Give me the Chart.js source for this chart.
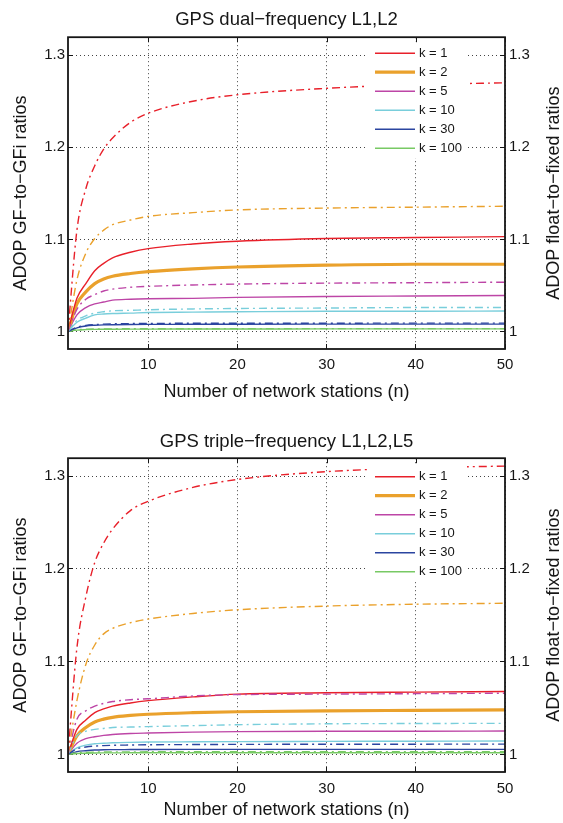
<!DOCTYPE html>
<html>
<head>
    <title>ADOP ratios</title>
    <style>
        body { margin: 0; background: #fff; }
        canvas { display: block; }
    </style>
</head>
<body>
    <canvas id="dualChart" width="563" height="411"></canvas>
    <canvas id="tripleChart" width="563" height="412"></canvas>

    <script src="https://cdn.jsdelivr.net/npm/chart.js"></script>

    <script>
        // number of network stations (x)
        const stations = [1, 2, 3, 4, 5, 6, 8, 10, 15, 20, 30, 40, 50];
        const kLabels = ['k = 1', 'k = 2', 'k = 5', 'k = 10', 'k = 30', 'k = 100'];
        const kColors = ['#e8202a', '#eaa12c', '#bd45a6', '#79cedb', '#2b45a0', '#78c964'];
        const xTickValues = [10, 20, 30, 40, 50];
        const yTickValues = [1, 1.1, 1.2, 1.3];

        // GPS dual-frequency L1,L2 : GF-to-GFi (solid)
        const dualGF_k1   = [1.000, 1.036, 1.052, 1.066, 1.074, 1.080, 1.086, 1.090, 1.095, 1.098, 1.101, 1.102, 1.103];
        const dualGF_k2   = [1.000, 1.030, 1.043, 1.052, 1.057, 1.060, 1.063, 1.065, 1.068, 1.070, 1.072, 1.073, 1.073];
        const dualGF_k5   = [1.000, 1.018, 1.026, 1.030, 1.032, 1.034, 1.035, 1.0355, 1.036, 1.037, 1.038, 1.0385, 1.039];
        const dualGF_k10  = [1.000, 1.010, 1.0145, 1.018, 1.019, 1.0195, 1.020, 1.0206, 1.021, 1.0214, 1.022, 1.022, 1.0222];
        const dualGF_k30  = [1.000, 1.004, 1.006, 1.0068, 1.0072, 1.0074, 1.0076, 1.0077, 1.0078, 1.0079, 1.008, 1.008, 1.008];
        const dualGF_k100 = [1.000, 1.0015, 1.002, 1.0023, 1.0024, 1.0025, 1.0026, 1.0026, 1.0027, 1.0027, 1.0028, 1.0028, 1.0028];
        // GPS dual-frequency L1,L2 : float-to-fixed (dash-dot)
        const dualFF_k1   = [1.000, 1.110, 1.155, 1.180, 1.198, 1.210, 1.227, 1.237, 1.250, 1.257, 1.264, 1.268, 1.270];
        const dualFF_k2   = [1.000, 1.056, 1.085, 1.101, 1.110, 1.116, 1.121, 1.125, 1.129, 1.132, 1.134, 1.135, 1.136];
        const dualFF_k5   = [1.000, 1.024, 1.035, 1.040, 1.044, 1.046, 1.048, 1.049, 1.0505, 1.0515, 1.0525, 1.053, 1.0535];
        const dualFF_k10  = [1.000, 1.012, 1.017, 1.020, 1.0215, 1.0225, 1.023, 1.0236, 1.0245, 1.025, 1.0255, 1.026, 1.026];
        const dualFF_k30  = [1.000, 1.0045, 1.0065, 1.0075, 1.008, 1.0083, 1.0086, 1.0088, 1.0089, 1.009, 1.009, 1.0091, 1.0091];
        const dualFF_k100 = [1.000, 1.0018, 1.0024, 1.0027, 1.0028, 1.0029, 1.003, 1.003, 1.003, 1.0031, 1.0031, 1.0031, 1.0031];

        // GPS triple-frequency L1,L2,L5 : GF-to-GFi (solid)
        const tripleGF_k1   = [1.000, 1.027, 1.037, 1.045, 1.049, 1.052, 1.0555, 1.058, 1.062, 1.065, 1.0665, 1.0672, 1.0678];
        const tripleGF_k2   = [1.000, 1.020, 1.029, 1.035, 1.038, 1.040, 1.042, 1.0433, 1.045, 1.046, 1.047, 1.0475, 1.048];
        const tripleGF_k5   = [1.000, 1.012, 1.017, 1.019, 1.0205, 1.0215, 1.0225, 1.023, 1.024, 1.0245, 1.025, 1.025, 1.0252];
        const tripleGF_k10  = [1.000, 1.007, 1.010, 1.0115, 1.012, 1.0125, 1.013, 1.0133, 1.0136, 1.0138, 1.014, 1.0142, 1.0144];
        const tripleGF_k30  = [1.000, 1.003, 1.004, 1.0047, 1.005, 1.0051, 1.0052, 1.0053, 1.0054, 1.0054, 1.0054, 1.0054, 1.0054];
        const tripleGF_k100 = [1.000, 1.001, 1.0013, 1.0015, 1.0016, 1.0016, 1.0017, 1.0017, 1.0017, 1.0017, 1.0017, 1.0017, 1.0017];
        // GPS triple-frequency L1,L2,L5 : float-to-fixed (dash-dot)
        const tripleFF_k1   = [1.000, 1.115, 1.170, 1.207, 1.228, 1.243, 1.263, 1.273, 1.288, 1.2965, 1.305, 1.309, 1.311];
        const tripleFF_k2   = [1.000, 1.058, 1.097, 1.118, 1.130, 1.136, 1.142, 1.146, 1.152, 1.156, 1.160, 1.162, 1.163];
        const tripleFF_k5   = [1.000, 1.038, 1.047, 1.052, 1.055, 1.057, 1.059, 1.060, 1.063, 1.0645, 1.065, 1.0655, 1.066];
        const tripleFF_k10  = [1.000, 1.020, 1.025, 1.027, 1.028, 1.029, 1.0295, 1.030, 1.031, 1.032, 1.033, 1.0333, 1.0335];
        const tripleFF_k30  = [1.000, 1.006, 1.008, 1.009, 1.0095, 1.0098, 1.0101, 1.0104, 1.0106, 1.0108, 1.0109, 1.011, 1.0111];
        const tripleFF_k100 = [1.000, 1.0017, 1.0022, 1.0025, 1.0026, 1.0027, 1.0027, 1.0028, 1.0028, 1.0028, 1.0028, 1.0028, 1.0028];

        const FONT = "'Liberation Sans', Arial, Helvetica, sans-serif";
        const INK = '#161616';
        Chart.defaults.font.family = FONT;
        Chart.defaults.color = INK;

        function makeSets(gf, ff) {
            const sets = [];
            ff.forEach((vals, i) => {
                sets.push({
                    label: kLabels[i] + ' float',
                    data: stations.map((n, j) => ({x: n, y: vals[j]})),
                    yAxisID: 'y2',
                    borderColor: kColors[i],
                    borderWidth: 1.4,
                    borderDash: [8, 4, 2, 4]
                });
            });
            gf.forEach((vals, i) => {
                sets.push({
                    label: kLabels[i],
                    data: stations.map((n, j) => ({x: n, y: vals[j]})),
                    yAxisID: 'y',
                    borderColor: kColors[i],
                    borderWidth: i === 1 ? 3.2 : 1.4
                });
            });
            return sets;
        }

        // legend inside plot (covers lines), box frame, right-hand title
        const boxPlugin = {
            id: 'boxStuff',
            afterDatasetsDraw(chart, args, opts) {
                const ctx = chart.ctx;
                const a = chart.chartArea;
                const row0 = a.top + opts.legendTop;
                ctx.save();
                ctx.fillStyle = '#fff';
                ctx.fillRect(367, row0 - 12, 100, 5 * 19 + 22);
                kLabels.forEach((lab, i) => {
                    const y = row0 + i * 19;
                    ctx.strokeStyle = kColors[i];
                    ctx.lineWidth = i === 1 ? 3.2 : 1.5;
                    ctx.beginPath();
                    ctx.moveTo(375, y);
                    ctx.lineTo(415, y);
                    ctx.stroke();
                    ctx.fillStyle = INK;
                    ctx.font = '13px ' + FONT;
                    ctx.textBaseline = 'middle';
                    ctx.textAlign = 'left';
                    ctx.fillText(lab, 419, y);
                });
                ctx.restore();
            },
            afterDraw(chart, args, opts) {
                const ctx = chart.ctx;
                const a = chart.chartArea;
                ctx.save();
                ctx.strokeStyle = INK;
                ctx.lineWidth = 1;
                const xs = chart.scales.x;
                xTickValues.forEach(v => {
                    const px = Math.round(xs.getPixelForValue(v)) + 0.5;
                    ctx.beginPath();
                    ctx.moveTo(px, a.top);
                    ctx.lineTo(px, a.top + 5);
                    ctx.stroke();
                });
                ctx.lineWidth = 1.8;
                ctx.strokeRect(a.left, a.top, a.right - a.left, a.bottom - a.top);
                ctx.translate(554, (a.top + a.bottom) / 2);
                ctx.rotate(-Math.PI / 2);
                ctx.fillStyle = INK;
                ctx.font = '18px ' + FONT;
                ctx.textAlign = 'center';
                ctx.textBaseline = 'middle';
                ctx.fillText('ADOP float\u2212to\u2212fixed ratios', 0, 0);
                ctx.restore();
            }
        };

        function yTickLabel(v) {
            return v === 1 ? '1' : v.toFixed(1);
        }

        function makeChart(id, titleText, gf, ff, lay) {
            const gridDash = {display: false, dash: [1, 3]};
            return new Chart(document.getElementById(id), {
                type: 'line',
                data: {datasets: makeSets(gf, ff)},
                options: {
                    responsive: false,
                    animation: false,
                    layout: {padding: 0},
                    elements: {
                        point: {radius: 0},
                        line: {cubicInterpolationMode: 'monotone', fill: false}
                    },
                    plugins: {
                        legend: {display: false},
                        tooltip: {enabled: false},
                        title: {
                            display: true,
                            text: titleText,
                            fullSize: false,
                            color: INK,
                            font: {size: 18.5, weight: 'normal'},
                            padding: lay.titlePad
                        },
                        boxStuff: {legendTop: lay.legendTop}
                    },
                    scales: {
                        x: {
                            type: 'linear',
                            min: 1,
                            max: 50,
                            afterBuildTicks: s => { s.ticks = xTickValues.map(v => ({value: v})); },
                            afterFit: s => { s.height = lay.xHeight; },
                            grid: {color: '#444', lineWidth: 1, tickLength: -5, tickColor: INK, tickWidth: 1, tickBorderDash: []},
                            border: gridDash,
                            ticks: {font: {size: 15}, padding: lay.xTickPad, maxRotation: 0, color: INK},
                            title: {display: true, text: 'Number of network stations (n)', font: {size: 18}, color: INK, padding: {top: 0, bottom: lay.xTitlePad}}
                        },
                        y: {
                            position: 'left',
                            min: 0.981,
                            max: 1.3195,
                            afterBuildTicks: s => { s.ticks = yTickValues.map(v => ({value: v})); },
                            afterFit: s => { s.width = 68; },
                            grid: {color: '#444', lineWidth: 1, tickLength: -5, tickColor: INK, tickWidth: 1, tickBorderDash: []},
                            border: gridDash,
                            ticks: {font: {size: 15}, padding: 8, color: INK, callback: yTickLabel},
                            title: {display: true, text: 'ADOP GF\u2212to\u2212GFi ratios', font: {size: 18}, color: INK, padding: {top: 10, bottom: 0}}
                        },
                        y2: {
                            position: 'right',
                            min: 0.981,
                            max: 1.3195,
                            afterBuildTicks: s => { s.ticks = yTickValues.map(v => ({value: v})); },
                            afterFit: s => { s.width = 58; },
                            grid: {drawOnChartArea: false, tickLength: -5, tickColor: INK, tickWidth: 1},
                            border: {display: false},
                            ticks: {font: {size: 15}, padding: 9, color: INK, callback: yTickLabel}
                        }
                    }
                },
                plugins: [boxPlugin]
            });
        }

        makeChart('dualChart', 'GPS dual\u2212frequency L1,L2',
            [dualGF_k1, dualGF_k2, dualGF_k5, dualGF_k10, dualGF_k30, dualGF_k100],
            [dualFF_k1, dualFF_k2, dualFF_k5, dualFF_k10, dualFF_k30, dualFF_k100],
            {titlePad: {top: 9, bottom: 6}, xHeight: 62, xTickPad: 12, xTitlePad: 8, legendTop: 16});

        makeChart('tripleChart', 'GPS triple\u2212frequency L1,L2,L5',
            [tripleGF_k1, tripleGF_k2, tripleGF_k5, tripleGF_k10, tripleGF_k30, tripleGF_k100],
            [tripleFF_k1, tripleFF_k2, tripleFF_k5, tripleFF_k10, tripleFF_k30, tripleFF_k100],
            {titlePad: {top: 20, bottom: 5}, xHeight: 51, xTickPad: 13, xTitlePad: 2, legendTop: 18.5});
    </script>
</body>
</html>
